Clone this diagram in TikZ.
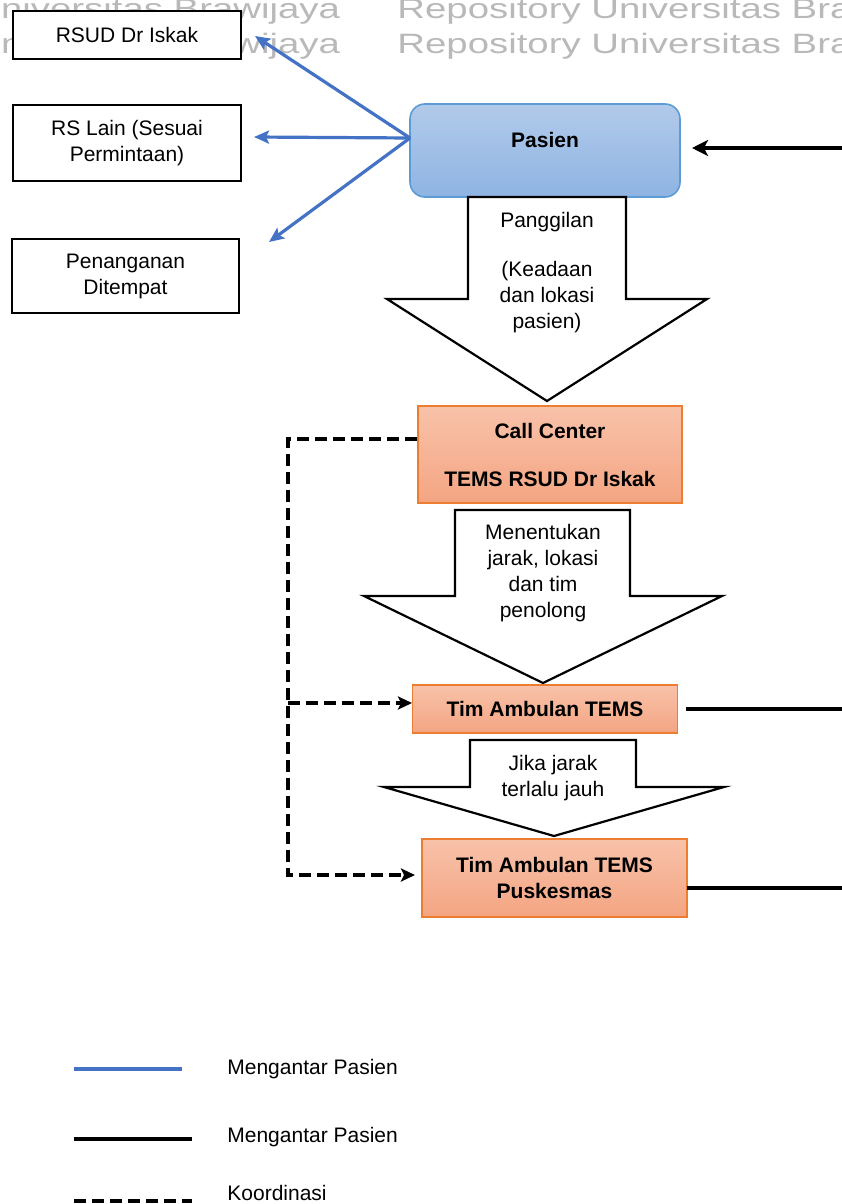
\documentclass[tikz,border=0pt]{standalone}
\usepackage{fontspec}
\setmainfont{Liberation Sans}
\usetikzlibrary{arrows.meta}
\definecolor{bluec}{RGB}{68,114,196}
\definecolor{pasTop}{RGB}{178,202,234}
\definecolor{pasBot}{RGB}{142,180,227}
\definecolor{pasBorder}{RGB}{93,155,213}
\definecolor{orTop}{RGB}{248,194,170}
\definecolor{orBot}{RGB}{244,165,130}
\definecolor{orBorder}{RGB}{237,125,49}
\definecolor{wmgray}{RGB}{185,185,185}
\tikzset{
  basefont/.style={font=\fontsize{10.5}{13}\selectfont},
  whitebox/.style={basefont, draw=black, line width=1.1pt, fill=white, align=center, inner sep=0pt},
  pasbox/.style={draw=pasBorder, line width=0.8pt, rounded corners=7.5pt, top color=pasTop, bottom color=pasBot, inner sep=0pt},
  orbox/.style={basefont, font=\fontsize{10.5}{13}\selectfont\bfseries, draw=orBorder, line width=0.7pt, top color=orTop, bottom color=orBot, align=center, inner sep=0pt},
  txt/.style={basefont, align=center, inner sep=0pt},
  bigarrow/.style={draw=black, line width=1.1pt, fill=white, line join=miter},
  blueline/.style={draw=bluec, line width=1.6pt},
  bluearrow/.style={blueline, -{Stealth[length=7.5pt,width=6.5pt,inset=1.5pt]}},
  link/.style={draw=black, line width=1.9pt},
  linkarrow/.style={link, -{Stealth[length=8pt,width=8pt,inset=2pt]}},
  coord/.style={draw=black, line width=1.7pt, dash pattern=on 6pt off 3pt},
  coordarrow/.style={coord, -{Stealth[length=7pt,width=6.5pt,inset=1.5pt]}},
  wm/.style={font=\fontsize{14}{16}\selectfont, text=wmgray, inner sep=0pt, anchor=base west}
}
\begin{document}
\begin{tikzpicture}[x=0.5pt,y=-0.5pt]
\useasboundingbox (0,0) rectangle (841,1204);

% watermark
\begin{scope}
\clip (0,0) rectangle (841,1204);
\node[wm] (wm1) at (-221,19) {\scalebox{1.37}[1]{Repository Universitas Brawijaya}};
\node[wm] (wm2) at (397,19) {\scalebox{1.37}[1]{Repository Universitas Brawijaya}};
\node[wm] (wm3) at (-221,54) {\scalebox{1.37}[1]{Repository Universitas Brawijaya}};
\node[wm] (wm4) at (397,54) {\scalebox{1.37}[1]{Repository Universitas Brawijaya}};
\end{scope}

% left boxes
\node[whitebox, minimum width=114pt, minimum height=24pt] (rsud) at (127,35) {RSUD Dr Iskak};
\node[whitebox, minimum width=114pt, minimum height=38pt] (rslain) at (127,143) {RS Lain (Sesuai\\Permintaan)};
\node[whitebox, minimum width=113.5pt, minimum height=37pt] (penang) at (125.5,276) {Penanganan\\Ditempat};

% pasien
\node[pasbox, minimum width=135pt, minimum height=46.5pt] (pasien) at (545,150.5) {};
\node[txt, font=\fontsize{10.5}{13}\selectfont\bfseries] (pasienlbl) at (545,140) {Pasien};

% big arrows
\draw[bigarrow] (468,197) -- (626,197) -- (626,299) -- (707,299) -- (547,401) -- (387,299) -- (468,299) -- cycle;
\node[txt] (a1txt) at (547,272.5) {Panggilan\\[11.5pt](Keadaan\\dan lokasi\\pasien)};

\draw[bigarrow] (455,510) -- (630,510) -- (630,596) -- (722,596) -- (543,683) -- (364,596) -- (455,596) -- cycle;
\node[txt] (a2txt) at (543,573.5) {Menentukan\\jarak, lokasi\\dan tim\\penolong};

\draw[bigarrow] (470,740) -- (636,740) -- (636,787) -- (724,787) -- (554,836) -- (384,787) -- (470,787) -- cycle;
\node[txt] (a3txt) at (553,778) {Jika jarak\\terlalu jauh};

% orange boxes
\node[orbox, minimum width=132pt, minimum height=48.5pt] (callc) at (550,454.5) {Call Center\\[11pt]TEMS RSUD Dr Iskak};
\node[orbox, minimum width=132.5pt, minimum height=24pt] (tim) at (545,709) {Tim Ambulan TEMS};
\node[orbox, minimum width=132.5pt, minimum height=39pt] (pusk) at (554.5,878) {Tim Ambulan TEMS\\Puskesmas};

% blue connectors
\coordinate (orig) at (410,138);
\coordinate (t1) at (255,36);
\coordinate (t2) at (254,137);
\coordinate (t3) at (269,242);
\draw[bluearrow] (orig) -- (t1);
\draw[bluearrow] (orig) -- (t2);
\draw[bluearrow] (orig) -- (t3);

% black connectors
\coordinate (rin) at (845,148);
\coordinate (pin) at (692,148);
\draw[linkarrow] (rin) -- (pin);
\coordinate (timout) at (686,709);
\coordinate (timend) at (845,709);
\draw[link] (timout) -- (timend);
\coordinate (puskout) at (687,888);
\coordinate (puskend) at (845,888);
\draw[link] (puskout) -- (puskend);

% coordination
\coordinate (ccl) at (417,439);
\coordinate (c1) at (288,439);
\coordinate (c2) at (288,875);
\coordinate (pl) at (415,875);
\coordinate (b1) at (288,703);
\coordinate (tl) at (412,703);
\draw[coordarrow] (ccl) -- (c1) -- (c2) -- (pl);
\draw[coordarrow] (b1) -- (tl);

% legend
\coordinate (l1a) at (74,1069);
\coordinate (l1b) at (182,1069);
\draw[blueline] (l1a) -- (l1b);
\node[txt, anchor=base west] (lg1) at (227,1074) {Mengantar Pasien};
\coordinate (l2a) at (74,1139);
\coordinate (l2b) at (192,1139);
\draw[link, line width=2pt] (l2a) -- (l2b);
\node[txt, anchor=base west] (lg2) at (227,1142) {Mengantar Pasien};
\coordinate (l3a) at (74,1201);
\coordinate (l3b) at (192,1201);
\draw[coord, line width=2pt] (l3a) -- (l3b);
\node[txt, anchor=base west] (lg3) at (227,1200) {Koordinasi};
\end{tikzpicture}
\end{document}
